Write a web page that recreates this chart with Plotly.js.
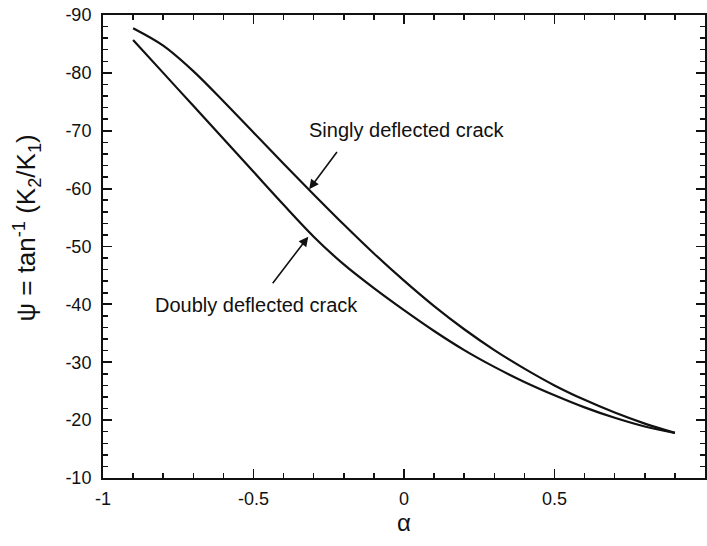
<!DOCTYPE html>
<html>
<head>
<meta charset="utf-8">
<script src="https://cdn.plot.ly/plotly-3.0.1.min.js"></script>
<style>html,body{margin:0;padding:0;background:#fff;}#chart{width:707px;height:546px;}</style>
</head>
<body>
<div id="chart"></div>
<script>
const alpha = [-0.9,-0.8,-0.7,-0.6,-0.5,-0.4,-0.3,-0.2,-0.1,0.0,0.1,0.2,0.3,0.4,0.5,0.6,0.7,0.8,0.9];
const singlyPsi = [-87.7,-84.7,-80.3,-75.1,-69.7,-64.3,-59.0,-53.8,-48.8,-44.1,-39.7,-35.7,-32.1,-28.9,-26.0,-23.5,-21.3,-19.4,-17.8];
const doublyPsi = [-85.7,-80.0,-74.3,-68.6,-62.9,-57.2,-51.7,-46.9,-42.8,-39.0,-35.4,-32.1,-29.2,-26.6,-24.3,-22.2,-20.4,-18.9,-17.8];
const xTickVals = [-1,-0.5,0,0.5,1];
const xTickText = ['-1','-0.5','0','0.5','1'];
const yTickVals = [-90,-80,-70,-60,-50,-40,-30,-20,-10];
const yTickText = ['-90','-80','-70','-60','-50','-40','-30','-20','-10'];
const labelSingly = 'Singly deflected crack';
const labelDoubly = 'Doubly deflected crack';

const FONT = 'Liberation Sans, Arial, sans-serif';
const lineStyle = {color:'#111', width:2.2, shape:'spline', smoothing:0.9};

const traces = [
  {x: alpha, y: singlyPsi, type:'scatter', mode:'lines', line: lineStyle, name: labelSingly, hoverinfo:'skip'},
  {x: alpha, y: doublyPsi, type:'scatter', mode:'lines', line: lineStyle, name: labelDoubly, hoverinfo:'skip'}
];

const axisCommon = {
  showline:true, linecolor:'#111', linewidth:2, mirror:'ticks',
  ticks:'inside', ticklen:9, tickwidth:1.8, tickcolor:'#111',
  showgrid:false, zeroline:false,
  tickfont:{family:FONT, size:18, color:'#111'}
};

const layout = {
  width:707, height:546,
  margin:{l:103, r:2, t:15, b:68},
  paper_bgcolor:'#fff', plot_bgcolor:'#fff',
  showlegend:false,
  font:{family:FONT, color:'#111'},
  xaxis: Object.assign({}, axisCommon, {
    range:[-1,1], tickmode:'array', tickvals:xTickVals, ticktext:xTickText,
    ticklabelstandoff:3,
    minor:{dtick:0.1, ticks:'inside', ticklen:5, tickwidth:1.5, tickcolor:'#111'},
    title:{text:'α', font:{family:FONT, size:24, color:'#111'}, standoff:5}
  }),
  yaxis: Object.assign({}, axisCommon, {
    range:[-10,-90], tickmode:'array', tickvals:yTickVals, ticktext:yTickText,
    ticklabelstandoff:6,
    minor:{dtick:2, ticks:'inside', ticklen:5, tickwidth:1.5, tickcolor:'#111'}
  }),
  annotations:[
    {xref:'paper', yref:'paper', x:-0.127, y:0.54, text:'ψ = tan<sup>-1</sup> (K<sub>2</sub>/K<sub>1</sub>)',
     textangle:-90, showarrow:false, font:{family:FONT, size:26, color:'#111'}, xanchor:'center', yanchor:'middle'},
    {x:0.01, y:-70.1, text:labelSingly, showarrow:false, font:{family:FONT, size:20, color:'#111'}},
    {x:-0.49, y:-39.9, text:labelDoubly, showarrow:false, font:{family:FONT, size:20, color:'#111'}},
    {x:-0.315, y:-59.9, ax:-0.219, ay:-66.6, axref:'x', ayref:'y', text:'', showarrow:true,
     arrowhead:2, arrowsize:1.2, arrowwidth:1.6, arrowcolor:'#111'},
    {x:-0.318, y:-51.7, ax:-0.440, ay:-43.4, axref:'x', ayref:'y', text:'', showarrow:true,
     arrowhead:2, arrowsize:1.2, arrowwidth:1.6, arrowcolor:'#111'}
  ]
};

Plotly.newPlot('chart', traces, layout, {staticPlot:true, displayModeBar:false});
</script>
</body>
</html>
